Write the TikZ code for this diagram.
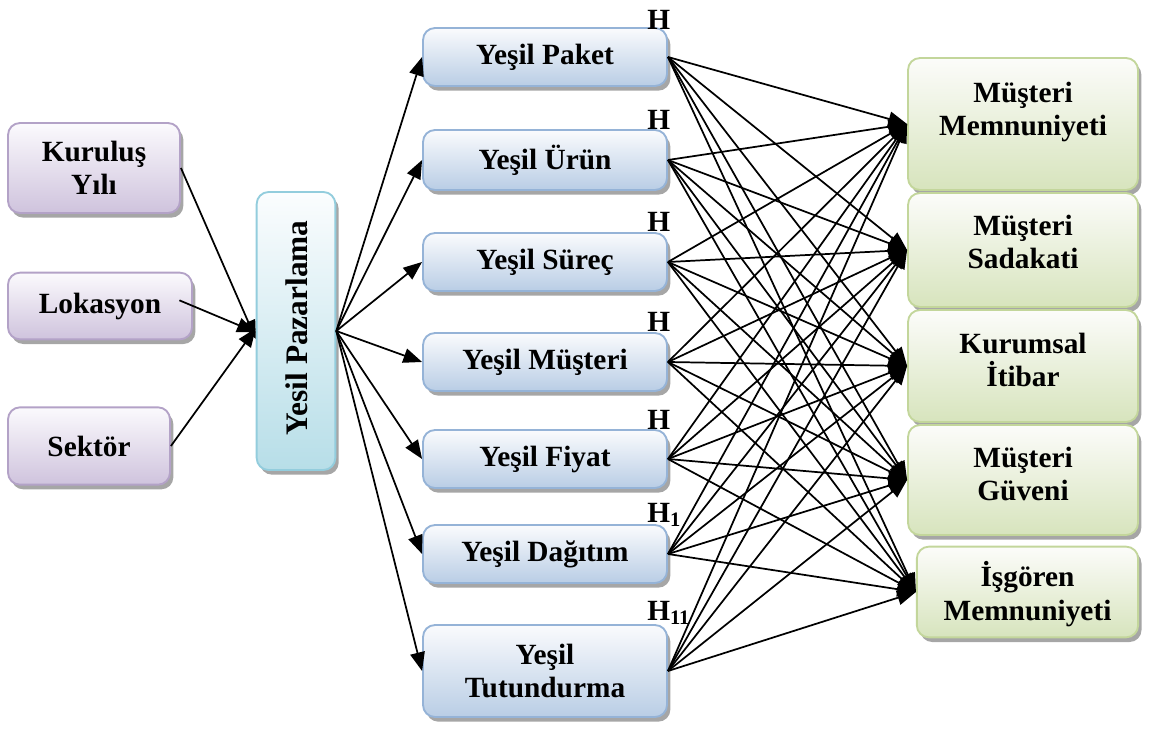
\documentclass[tikz,border=0pt]{standalone}
\usepackage{fontspec}
\setmainfont{LiberationSerif}[Extension=.ttf, UprightFont=*-Regular, BoldFont=*-Bold, ItalicFont=*-Italic, BoldItalicFont=*-BoldItalic]
\usetikzlibrary{shadows,arrows.meta}
\definecolor{purB}{HTML}{B3A2C7}
\definecolor{purT}{HTML}{FBFAFD}
\definecolor{purD}{HTML}{CFC3DD}
\definecolor{bluB}{HTML}{95B3D7}
\definecolor{bluT}{HTML}{FAFBFD}
\definecolor{bluD}{HTML}{B9CDE5}
\definecolor{teaB}{HTML}{93CDDD}
\definecolor{teaT}{HTML}{FBFDFE}
\definecolor{teaD}{HTML}{B7DEE8}
\definecolor{grnB}{HTML}{C3D69B}
\definecolor{grnT}{HTML}{FCFCFA}
\definecolor{grnD}{HTML}{D7E4BD}
\begin{document}
\begin{tikzpicture}[x=0.75pt,y=-0.75pt,
  box/.style={rounded corners=9pt, line width=1.4pt, align=center, inner sep=0pt,
    font=\fontsize{22}{25}\selectfont\bfseries,
    drop shadow={shadow xshift=2.5pt,shadow yshift=-3.5pt,fill=black,opacity=.35}},
  pbox/.style={box, draw=purB, top color=purT, bottom color=purD},
  bbox/.style={box, draw=bluB, top color=bluT, bottom color=bluD,
    minimum width=183pt, minimum height=43.5pt},
  tbox/.style={box, draw=teaB, top color=teaT, bottom color=teaD},
  gbox/.style={box, draw=grnB, top color=grnT, bottom color=grnD,
    minimum width=172.5pt},
  txt/.style={align=center, inner sep=0pt, font=\fontsize{22}{25}\selectfont\bfseries},
  hlab/.style={anchor=west, inner sep=0pt, font=\fontsize{22}{25}\selectfont\bfseries},
  arr/.style={-{Triangle[length=14pt,width=11pt]}, line width=1.3pt}]
\useasboundingbox (0,0) rectangle (1149,731);

% left boxes
\node[pbox, minimum width=129pt, minimum height=67.5pt] (kur) at (94,168) {Kuruluş\\Yılı};
\node[pbox, minimum width=138pt, minimum height=50pt] (lok) at (100,306) {Lokasyon};
\node[pbox, minimum width=121.5pt, minimum height=58pt] (sek) at (89,446) {Sektör};

% central
\node[tbox, minimum width=59pt, minimum height=208.5pt] (paz) at (296,331) {};
\node[txt, rotate=90, font=\fontsize{23.5}{27}\selectfont\bfseries] (pazt) at (297,328) {Yesil Pazarlama};

% middle boxes
\node[bbox] (m1) at (545,57) {Yeşil Paket};
\node[bbox, minimum height=45pt] (m2) at (545,160) {Yeşil Ürün};
\node[bbox] (m3) at (545,262) {Yeşil Süreç};
\node[bbox] (m4) at (545,362) {Yeşil Müşteri};
\node[bbox] (m5) at (545,459) {Yeşil Fiyat};
\node[bbox] (m6) at (545,554) {Yeşil Dağıtım};
\node[bbox, minimum height=69pt] (m7) at (545,671) {Yeşil\\Tutundurma};

% H labels
\node[hlab] (h1) at (647,20) {H};
\node[hlab] (h2) at (647,120) {H};
\node[hlab] (h3) at (647,222) {H};
\node[hlab] (h4) at (647,322) {H};
\node[hlab] (h5) at (647,420) {H};
\node[hlab] (h6) at (647,515) {H\textsubscript{1}};
\node[hlab] (h7) at (647,613) {H\textsubscript{11}};

% right boxes
\node[gbox, minimum height=99pt] (r1) at (1023,124) {};
\node[gbox, minimum height=85.5pt] (r2) at (1023,250) {};
\node[gbox, minimum height=84pt] (r3) at (1023,366) {};
\node[gbox, minimum height=82.5pt] (r4) at (1023,480) {};
\node[gbox, minimum width=166pt, minimum height=68pt] (r5) at (1027.5,592) {};
\node[txt] (r1t) at (1023,112) {Müşteri\\Memnuniyeti};
\node[txt] (r2t) at (1023,242) {Müşteri\\Sadakati};
\node[txt] (r3t) at (1023,360) {Kurumsal\\İtibar};
\node[txt] (r4t) at (1023,474) {Müşteri\\Güveni};
\node[txt] (r5t) at (1027.5,594) {İşgören\\Memnuniyeti};

% left arrows
\draw[arr] (kur.east) -- ([yshift=-6]paz.west);
\draw[arr, shorten <=-11pt] (lok.east) -- ([yshift=-1]paz.west);
\draw[arr] (sek.east) -- ([yshift=2]paz.west);

% fan out
\foreach \m in {m1,m2,m3,m4,m5,m6,m7}
  \draw[arr] (paz.east) -- (\m.west);

% full connections
\foreach \m in {m1,m2,m3,m4,m5,m6,m7}
  \foreach \r in {r1,r2,r3,r4,r5}
    \draw[arr] (\m.east) -- (\r.west);
\end{tikzpicture}
\end{document}
